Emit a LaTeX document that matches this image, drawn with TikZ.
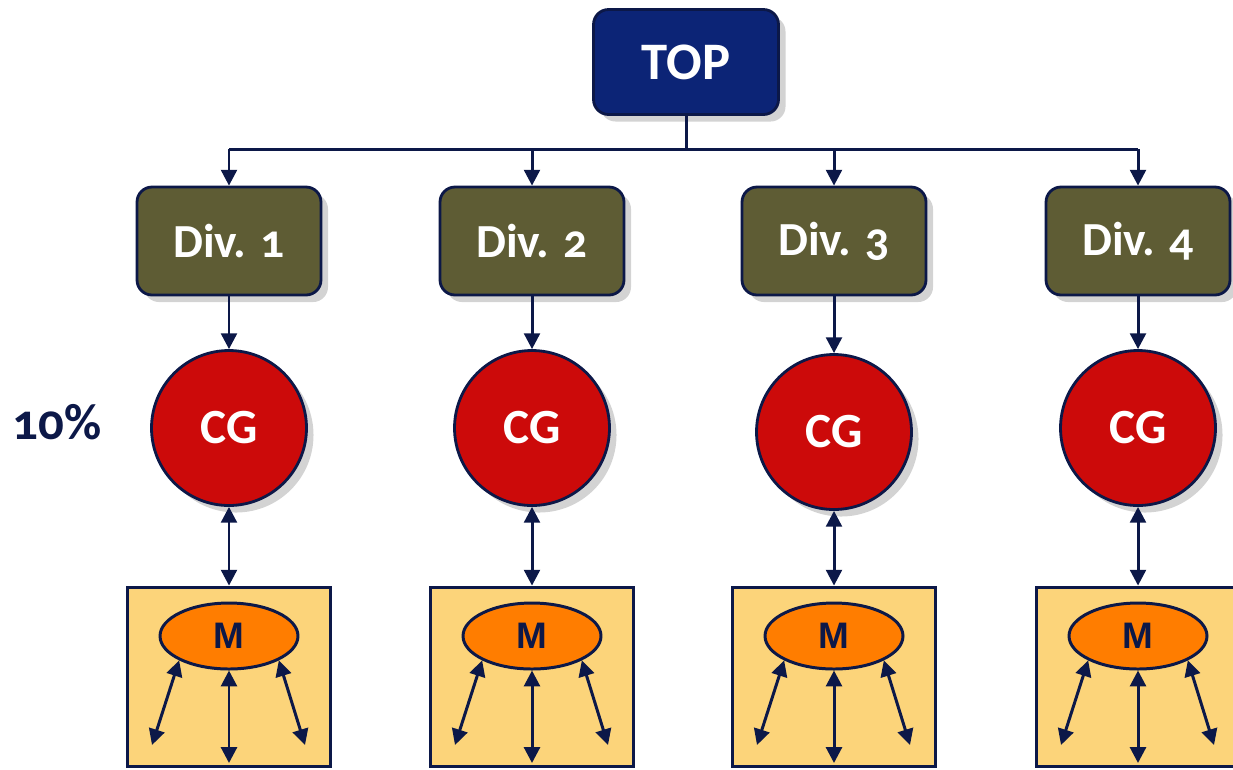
\documentclass[tikz,border=0pt]{standalone}
\usepackage{fontspec}
\setmainfont{Carlito}[Numbers=OldStyle]
\newfontfamily\mfont{Liberation Sans}
\usetikzlibrary{positioning,shapes.geometric,arrows.meta,shadows}
\definecolor{navy}{RGB}{12,24,72}
\definecolor{topblue}{RGB}{12,36,118}
\definecolor{divolive}{RGB}{94,92,52}
\definecolor{cgred}{RGB}{204,10,10}
\definecolor{mfill}{RGB}{252,212,122}
\definecolor{morange}{RGB}{255,125,0}

\tikzset{
  softshadow/.style={drop shadow={opacity=0.35, shadow xshift=4pt, shadow yshift=-4pt}},
  topbox/.style={rectangle, rounded corners=0.3cm, draw=navy, line width=1.6pt,
    fill=topblue, text=white, minimum width=3.7cm, minimum height=2.1cm,
    font=\bfseries\fontsize{30}{30}\selectfont, softshadow},
  divbox/.style={rectangle, rounded corners=0.3cm, draw=navy, line width=1.6pt,
    fill=divolive, text=white, minimum width=3.68cm, minimum height=2.16cm,
    font=\bfseries\fontsize{27}{27}\selectfont, softshadow},
  cgnode/.style={circle, draw=navy, line width=1.6pt, fill=cgred, text=white,
    minimum size=3.1cm, font=\bfseries\fontsize{28}{28}\selectfont, softshadow},
  mbox/.style={rectangle, draw=navy, line width=2.2pt, fill=mfill,
    minimum width=4.06cm, minimum height=3.58cm},
  mnode/.style={ellipse, draw=navy, line width=1.7pt, fill=morange, text=navy,
    minimum width=2.76cm, minimum height=1.32cm, inner sep=0pt,
    font=\mfont\bfseries\fontsize{21}{21}\selectfont},
  link/.style={draw=navy, line width=1.7pt},
  tip/.style={-{Triangle[length=9pt,width=9pt]}},
  twotip/.style={{Triangle[length=9pt,width=9pt]}-{Triangle[length=9pt,width=9pt]}}
}

\begin{document}
\begin{tikzpicture}[x=0.02cm,y=-0.02cm]
  \useasboundingbox (0,0) rectangle (1233,769);
  % Top of the tree
  \node[topbox] (top) at (686,62) {TOP};
  \coordinate (bus) at (686,149);
  \draw[link] (top) -- (bus);
  % Divisions
  \foreach \i/\x/\cy in {1/229/428, 2/532/428, 3/834/432, 4/1138/428} {
    \node[divbox] (d\i) at (\x,241) {Div. \i};
    \node[cgnode] (cg\i) at (\x,\cy) {CG};
    \node[mbox] (mb\i) at (\x,677) {};
    \node[mnode] (m\i) at (\x,636) {M};
    \coordinate (l\i) at (\x-77,745);
    \coordinate (b\i) at (\x,763);
    \coordinate (r\i) at (\x+76,745);
    \draw[link,tip] (bus -| d\i) -- (d\i);
    \draw[link,tip] (d\i) -- (cg\i);
    \draw[link,twotip] (cg\i) -- (mb\i.north);
    \draw[link,twotip] (m\i.south west) -- (l\i);
    \draw[link,twotip] (m\i.south) -- (b\i);
    \draw[link,twotip] (m\i.south east) -- (r\i);
  }
  \draw[link] (bus -| d1) -- (bus -| d4);
  % Share label
  \node[text=navy, font=\bfseries\fontsize{29}{29}\selectfont] (pct) at (57,422) {10\%};
\end{tikzpicture}
\end{document}
